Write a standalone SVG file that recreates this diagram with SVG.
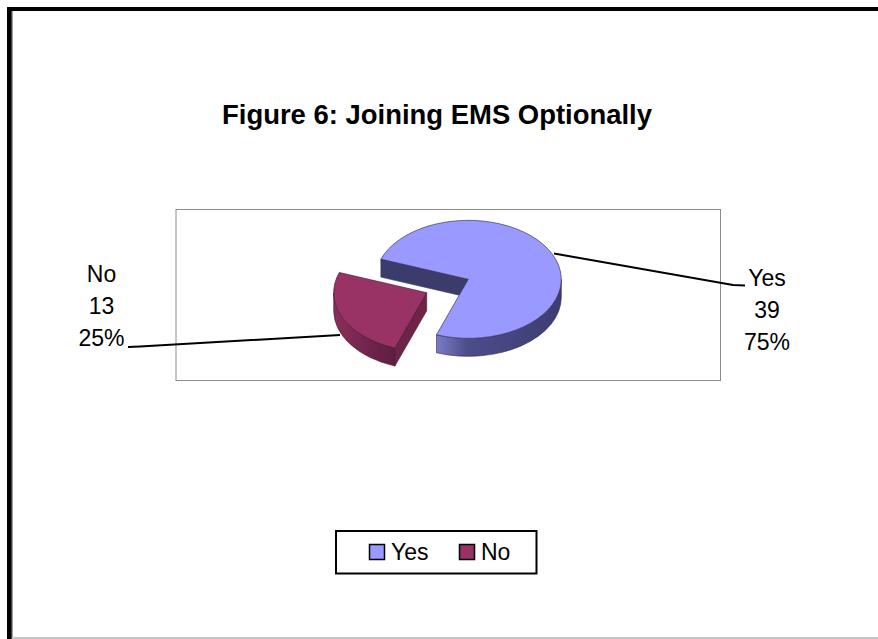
<svg xmlns="http://www.w3.org/2000/svg" width="878" height="639" viewBox="0 0 878 639">
  <defs>
    <style>
      .lbl { font-family: "Liberation Sans", Arial, sans-serif; font-size: 23px; fill: #000; }
      .title { font-family: "Liberation Sans", Arial, sans-serif; font-size: 27px; font-weight: bold; fill: #000; }
      .leader { fill: none; stroke: #000; stroke-width: 2; }
      .sw { stroke: #000; stroke-width: 1.5; }
    </style>
    <linearGradient id="blueRim" x1="436" y1="0" x2="562" y2="0" gradientUnits="userSpaceOnUse">
      <stop offset="0" stop-color="#7c7cc6"/>
      <stop offset="0.25" stop-color="#4c4c8a"/>
      <stop offset="1" stop-color="#3d3d72"/>
    </linearGradient>
    <linearGradient id="redRim" x1="333" y1="0" x2="395" y2="0" gradientUnits="userSpaceOnUse">
      <stop offset="0" stop-color="#8a2e5c"/>
      <stop offset="1" stop-color="#5e1e40"/>
    </linearGradient>
  </defs>

  <rect width="878" height="639" fill="#fff"/>

  <g id="frame">
    <rect x="7" y="7" width="871" height="4" fill="#000"/>
    <rect x="7" y="7" width="4" height="632" fill="#000"/>
    <rect x="11" y="11" width="1.5" height="628" fill="#444"/>
    <rect x="12" y="637" width="866" height="2" fill="#c6c6c6"/>
  </g>

  <g id="title">
    <text class="title" x="222" y="124" textLength="430" lengthAdjust="spacingAndGlyphs">Figure 6: Joining EMS Optionally</text>
  </g>

  <g id="plot-area">
    <rect x="176" y="209.5" width="544.5" height="171" fill="none" stroke="#8c8c8c" stroke-width="1"/>
  </g>

  <g id="slice-yes">
    <path d="M468.3,279.3 L380.9,259.1 L380.9,277.1 L468.3,297.3 Z" fill="#3c3c6c" stroke="#2a2a4a" stroke-width="0.6"/>
    <path d="M436.5,334.8 A93,59 0 0 0 561.3,279.3 L561.3,297.3 A93,59 0 0 1 436.5,352.8 Z" fill="url(#blueRim)" stroke="#2a2a4a" stroke-width="0.6"/>
    <path d="M468.3,279.3 L436.5,334.8 A93,59 0 1 0 380.9,259.1 Z" fill="#9999ff" stroke="#3a3a66" stroke-width="0.7"/>
  </g>

  <g id="slice-no">
    <path d="M333.7,292.7 A93,59 0 0 0 394.9,348.1 L394.9,366.1 A93,59 0 0 1 333.7,310.7 Z" fill="url(#redRim)" stroke="#4a1530" stroke-width="0.6"/>
    <path d="M426.7,292.7 L394.9,348.1 L394.9,366.1 L426.7,310.7 Z" fill="#6e2449" stroke="#4a1530" stroke-width="0.6"/>
    <path d="M426.7,292.7 L339.3,272.5 A93,59 0 0 0 394.9,348.1 Z" fill="#993366" stroke="#4a1530" stroke-width="0.7"/>
  </g>

  <g id="connectors">
    <polyline class="leader" points="554,253.5 733,285 745,285.5"/>
    <polyline class="leader" points="340,335 140,346.5 128,347"/>
  </g>

  <g id="label-yes">
    <text class="lbl" x="767" y="286" text-anchor="middle">Yes</text>
    <text class="lbl" x="767" y="318" text-anchor="middle">39</text>
    <text class="lbl" x="767" y="350" text-anchor="middle">75%</text>
  </g>

  <g id="label-no">
    <text class="lbl" x="101.5" y="282" text-anchor="middle">No</text>
    <text class="lbl" x="101.5" y="314" text-anchor="middle">13</text>
    <text class="lbl" x="101.5" y="346" text-anchor="middle">25%</text>
  </g>

  <g id="legend">
    <rect x="336" y="531" width="200.5" height="42.5" fill="#fff" stroke="#000" stroke-width="2"/>
    <rect class="sw" x="369.5" y="544.5" width="15" height="15" fill="#9999ff"/>
    <text class="lbl" x="391" y="559.5">Yes</text>
    <rect class="sw" x="459.5" y="544.5" width="15" height="15" fill="#993366"/>
    <text class="lbl" x="481" y="559.5">No</text>
  </g>
</svg>
